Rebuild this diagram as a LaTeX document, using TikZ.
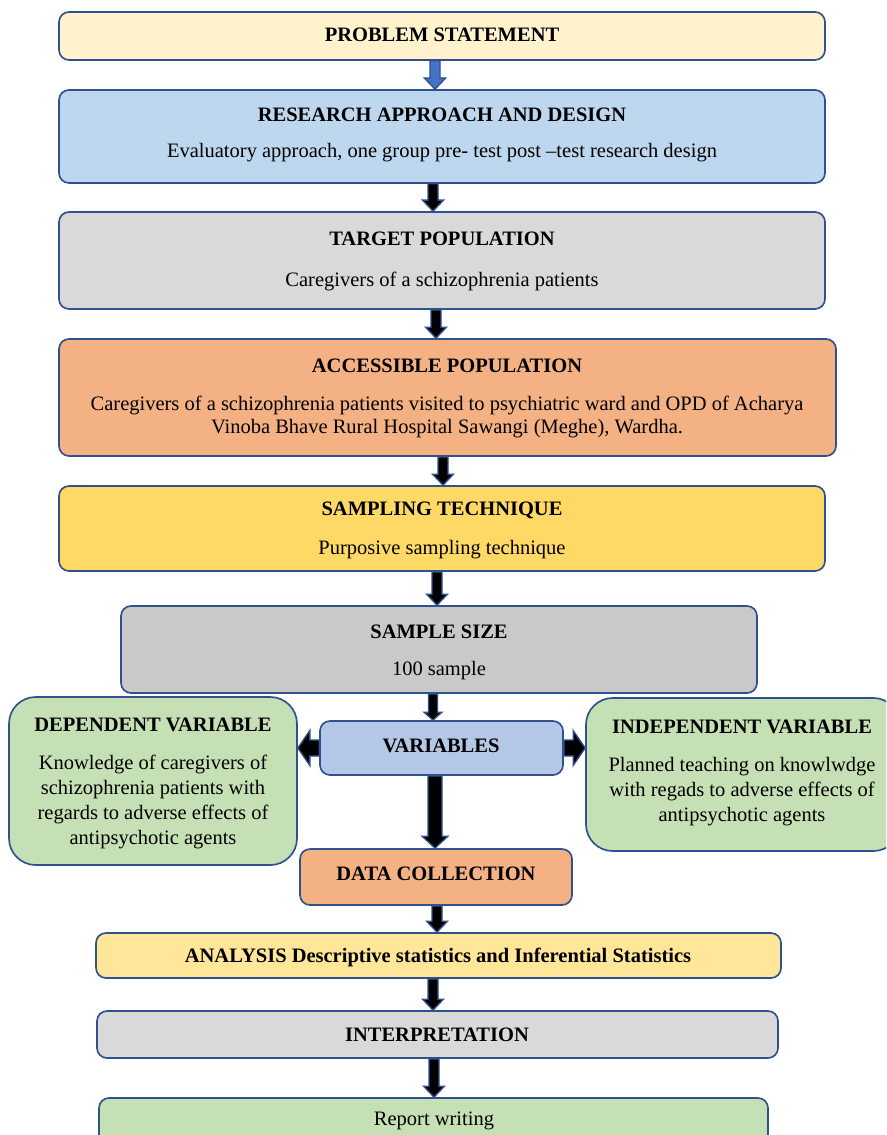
\documentclass[tikz,border=0pt]{standalone}
\usepackage{fontspec}
\setmainfont{Liberation Serif}
\usetikzlibrary{positioning, fit, calc}

\definecolor{edgeblue}{HTML}{2F528F}
\definecolor{arrblue}{HTML}{4472C4}
\definecolor{psfill}{HTML}{FFF2CC}
\definecolor{radfill}{HTML}{BDD7EE}
\definecolor{greyfill}{HTML}{D9D9D9}
\definecolor{darkgrey}{HTML}{C9C9C9}
\definecolor{orangefill}{HTML}{F4B183}
\definecolor{goldfill}{HTML}{FFD966}
\definecolor{varfill}{HTML}{B4C7E7}
\definecolor{greenfill}{HTML}{C5E0B4}
\definecolor{yellowfill}{HTML}{FFE699}

\tikzset{
  box/.style={draw=edgeblue, line width=1pt, rounded corners=6pt, inner sep=0pt},
  head/.style={font=\fontsize{12.3}{14}\selectfont\bfseries, inner sep=0pt},
  body/.style={font=\fontsize{12.3}{14}\selectfont, align=center, inner sep=0pt},
  blockarr/.style={draw=edgeblue, line width=0.8pt, fill=black},
}

% block arrow: [style]{from}{to}{half shaft}{half head}{head length}
\newcommand{\blockarrow}[6][]{%
  \coordinate (hb) at ($(#3)!#6!(#2)$);
  \draw[blockarr,#1] ($(#2)!#4!90:(#3)$) -- ($(hb)!#4!90:(#3)$) -- ($(hb)!#5!90:(#3)$) -- (#3)
    -- ($(hb)!#5!-90:(#3)$) -- ($(hb)!#4!-90:(#3)$) -- ($(#2)!#4!-90:(#3)$) -- cycle;
}

\begin{document}
\begin{tikzpicture}[x=0.6pt, y=-0.6pt]
  \useasboundingbox (0,0) rectangle (886,1135);
  \clip (0,0) rectangle (886,1135);

  % boxes
  \node[box, fill=psfill, fit={(59,12) (825,60)}] (ps) {};
  \node[box, fill=radfill, fit={(59,90) (825,183)}] (rad) {};
  \node[box, fill=greyfill, fit={(59,212) (825,309)}] (tp) {};
  \node[box, fill=orangefill, fit={(59,339) (836,456)}] (ap) {};
  \node[box, fill=goldfill, fit={(59,486) (825,571)}] (st) {};
  \node[box, fill=darkgrey, fit={(121,606) (757,693)}] (ss) {};
  \node[box, fill=greenfill, rounded corners=16pt, fit={(9,697) (297,865)}] (dep) {};
  \node[box, fill=varfill, fit={(320,721) (563,775)}] (var) {};
  \node[box, fill=greenfill, rounded corners=16pt, fit={(586,698) (900,851)}] (ind) {};
  \node[box, fill=orangefill, fit={(300,849) (572,905)}] (dc) {};
  \node[box, fill=yellowfill, fit={(96,933) (781,978)}] (an) {};
  \node[box, fill=greyfill, fit={(97,1011) (778,1058)}] (int) {};
  \node[box, fill=greenfill, fit={(99,1098) (768,1170)}] (rw) {};

  % texts
  \node[head] (ps-t) at (442,35) {PROBLEM STATEMENT};
  \node[head] (rad-t) at (442,115) {RESEARCH APPROACH AND DESIGN};
  \node[body] (rad-b) at (442,153) {Evaluatory approach, one group pre- test post –test research design};
  \node[head] (tp-t) at (442,239) {TARGET POPULATION};
  \node[body] (tp-b) at (442,281) {Caregivers of a schizophrenia patients};
  \node[head] (ap-t) at (447,366) {ACCESSIBLE POPULATION};
  \node[body, font=\fontsize{12.3}{13.8}\selectfont] (ap-b) at (447,417)
    {Caregivers of a schizophrenia patients visited to psychiatric ward and OPD of Acharya\\
     Vinoba Bhave Rural Hospital Sawangi (Meghe), Wardha.};
  \node[head] (st-t) at (442,510) {SAMPLING TECHNIQUE};
  \node[body] (st-b) at (442,550) {Purposive sampling technique};
  \node[head] (ss-t) at (439,632) {SAMPLE SIZE};
  \node[body] (ss-b) at (439,671) {100 sample};
  \node[head] (dep-t) at (153,725) {DEPENDENT VARIABLE};
  \node[body, font=\fontsize{12.3}{15}\selectfont] (dep-b) at (153,802)
    {Knowledge of caregivers of\\ schizophrenia patients with\\ regards to adverse effects of\\ antipsychotic agents};
  \node[head] (var-t) at (441,746) {VARIABLES};
  \node[head] (ind-t) at (742,727) {INDEPENDENT VARIABLE};
  \node[body, font=\fontsize{12.3}{15}\selectfont] (ind-b) at (742,792)
    {Planned teaching on knowlwdge\\ with regads to adverse effects of\\ antipsychotic agents};
  \node[head] (dc-t) at (436,874) {DATA COLLECTION};
  \node[head] (an-t) at (438,957) {ANALYSIS Descriptive statistics and Inferential Statistics};
  \node[head] (int-t) at (437,1035) {INTERPRETATION};
  \node[body] (rw-t) at (434,1121) {Report writing};

  % arrows
  \coordinate (c0) at (435,0);
  \blockarrow[fill=arrblue]{ps.south -| c0}{rad.north -| c0}{3pt}{6.3pt}{6.6pt}
  \foreach \a/\b/\x in {rad/tp/433, tp/ap/436, ap/st/443, st/ss/437, dc/an/437, an/int/433, int/rw/434} {
    \coordinate (cx) at (\x,0);
    \blockarrow{\a.south -| cx}{\b.north -| cx}{3pt}{6.3pt}{6.6pt}
  }
  \coordinate (c1) at (433,0);
  \blockarrow{ss.south -| c1}{var.north -| c1}{2.7pt}{5.4pt}{4.8pt}
  \coordinate (c2) at (435,0);
  \blockarrow{var.south -| c2}{dc.north -| c2}{4.2pt}{7.8pt}{7.2pt}
  \blockarrow{var.west}{dep.east |- var.west}{4.8pt}{10.5pt}{7.2pt}
  \blockarrow{var.east}{ind.west |- var.east}{4.8pt}{10.5pt}{7.2pt}
\end{tikzpicture}
\end{document}
